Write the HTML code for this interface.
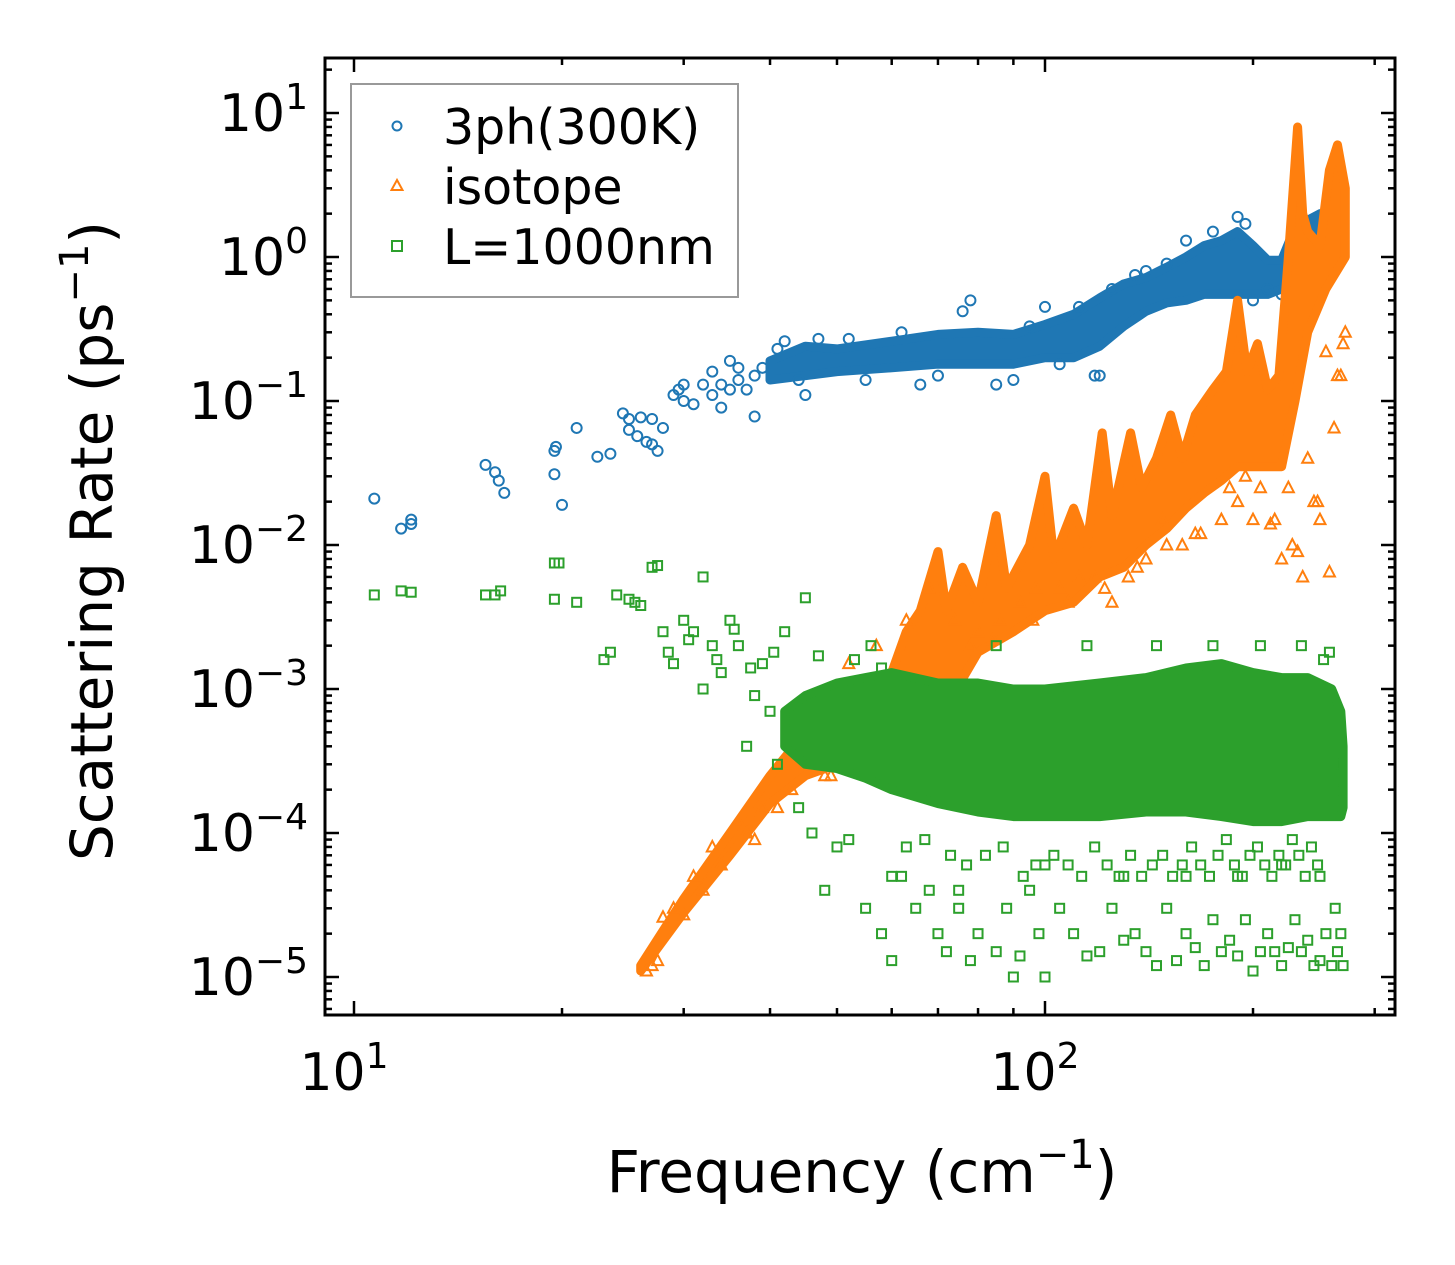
<!DOCTYPE html>
<html><head><meta charset="utf-8"><style>
body{margin:0;background:#fff;}
svg{display:block;font-family:"DejaVu Sans","Liberation Sans",sans-serif;}
</style></head><body>
<svg id="chart" width="1455" height="1265" viewBox="0 0 1455 1265" xmlns="http://www.w3.org/2000/svg">
<rect width="1455" height="1265" fill="#fff"/>
<g id="plot"></g>
<g id="axes"></g>
</svg>
<script>
// ---- data ----
const xTickValues=[10,100];
const xTickLabels=["1","2"];
const yTickValues=[10,1,0.1,0.01,0.001,0.0001,0.00001];
const yTickExps=["1","0","\u22121","\u22122","\u22123","\u22124","\u22125"];

const blueFreq=[10.7,11.7,12.1,12.1,15.5,16,16.2,16.5,19.5,19.5,19.6,20,21,22.5,23.5,24.5,25,25,25.7,26,26.5,27,27,27.5,28,29,29.5,30,30,31,32,33,33,34,34,35,35,36,36,37,38,38,39,41,45,52,66,76,78,85,100,120,135,150,190,195,230,245,42,44,47,55,62,70,90,95,105,112,118,125,140,160,175,200,210,220,235,255,265,270];
const blueRate=[0.021,0.013,0.015,0.014,0.036,0.032,0.028,0.023,0.045,0.031,0.048,0.019,0.065,0.041,0.043,0.082,0.075,0.063,0.057,0.077,0.052,0.05,0.075,0.045,0.065,0.11,0.12,0.13,0.10,0.095,0.13,0.16,0.11,0.09,0.13,0.19,0.12,0.14,0.17,0.12,0.15,0.078,0.17,0.23,0.11,0.27,0.13,0.42,0.5,0.13,0.45,0.15,0.75,0.9,1.9,1.7,1.8,1.3,0.26,0.14,0.27,0.14,0.3,0.15,0.14,0.33,0.18,0.45,0.15,0.6,0.8,1.3,1.5,0.5,0.6,0.55,1.2,2.0,1.8,1.2];
const blueBandF=[40,45,50,60,70,80,90,100,110,120,130,140,150,160,170,180,190,200,210,220,230,240,250,260,270];
const blueBandLo=[0.14,0.15,0.16,0.17,0.18,0.18,0.18,0.2,0.2,0.24,0.33,0.42,0.48,0.5,0.55,0.55,0.55,0.55,0.55,0.6,0.6,0.8,1.0,1.0,1.0];
const blueBandHi=[0.19,0.24,0.23,0.26,0.29,0.3,0.29,0.34,0.4,0.52,0.65,0.72,0.85,1.0,1.2,1.3,1.5,1.2,0.95,0.95,1.6,1.8,2.0,1.7,1.4];

const orangeHiF=[26,30,35,40,45,50,55,60,63,66,70,72,76,80,85,88,95,100,103,110,115,121,125,133,138,145,152,158,165,175,183,190,196,203,210,218,225,232,236,240,250,258,265,272];
const orangeHi=[1.2e-5,3.5e-5,1e-4,2.5e-4,5e-4,8e-4,1e-3,1.3e-3,2.5e-3,3.5e-3,9e-3,3.5e-3,7e-3,4e-3,1.6e-2,5e-3,1e-2,3e-2,8e-3,1.8e-2,1e-2,6e-2,1.6e-2,6e-2,2.5e-2,4e-2,8e-2,4e-2,8e-2,1.2e-1,1.6e-1,5e-1,1.6e-1,2.5e-1,1.2e-1,1.5e-1,1,8,2,1.5,1.2,4,6,3];
const orangeLoF=[26,30,35,40,45,50,60,70,80,90,100,110,120,130,140,150,160,170,180,190,200,210,220,230,240,255,272];
const orangeLo=[1.1e-5,2.8e-5,7e-5,1.6e-4,2.5e-4,3e-4,3.5e-4,6e-4,1.8e-3,2.5e-3,3.5e-3,4e-3,6e-3,7e-3,1e-2,1.3e-2,1.8e-2,2.3e-2,2.8e-2,3.5e-2,3.5e-2,3.5e-2,3.5e-2,1e-1,3e-1,6e-1,1];
const orangeFreq=[27,28,29,31,33,36,38,41,44,48,52,57,63,68,74,80,86,92,97,105,112,118,125,132,140,148,158,168,180,190,200,212,220,228,236,245,250,258,262,268,26.5,27.5,30,32,34,37,39,42,43,46,49,70,78,84,96,108,122,136,150,165,185,195,205,215,225,232,240,248,255,265,270,272];
const orangeRate=[1.2e-5,2.6e-5,3e-5,5e-5,8e-5,1.2e-4,9e-5,1.5e-4,5e-4,2.5e-4,1.5e-3,2e-3,3e-3,5e-3,3e-3,2.5e-3,3e-3,4e-3,5e-3,5e-3,6e-3,6e-3,4e-3,6e-3,8e-3,1.5e-2,1e-2,1.2e-2,1.5e-2,2e-2,1.5e-2,1.4e-2,8e-3,1e-2,6e-3,2e-2,1.5e-2,6.5e-3,0.065,0.15,1.1e-5,1.3e-5,2.7e-5,4e-5,6e-5,1e-4,1.5e-4,3e-4,2e-4,4e-4,2.5e-4,1.1e-3,2e-3,2.2e-3,3e-3,4e-3,5e-3,7e-3,1e-2,1.2e-2,2.5e-2,3e-2,2.5e-2,1.5e-2,2.5e-2,9e-3,4e-2,0.02,0.22,0.15,0.25,0.3];

const greenBandF=[42,45,50,55,60,70,80,90,100,120,140,160,180,200,220,240,260,268,270];
const greenBandLo=[4e-4,3e-4,2.8e-4,2.4e-4,2e-4,1.6e-4,1.4e-4,1.3e-4,1.3e-4,1.3e-4,1.4e-4,1.4e-4,1.3e-4,1.2e-4,1.2e-4,1.3e-4,1.3e-4,1.3e-4,1.5e-4];
const greenBandHi=[7e-4,9e-4,1.1e-3,1.2e-3,1.3e-3,1.1e-3,1.1e-3,1e-3,1e-3,1.1e-3,1.2e-3,1.4e-3,1.5e-3,1.3e-3,1.2e-3,1.2e-3,1e-3,7e-4,4e-4];
const greenFreq=[10.7,11.7,12.1,15.5,16,16.3,19.5,19.8,19.5,21,23,23.5,24,25,25.5,26,27,27.5,28,29,30,31,32,32,33,34,35,36,37,38,39,40,41,42,44,45,46,48,50,52,55,58,60,62,65,68,70,72,75,78,80,85,88,90,92,95,98,100,105,110,115,120,125,130,135,140,145,150,155,160,165,170,175,180,185,190,195,200,205,210,215,220,225,230,235,240,245,250,255,260,265,268,270,60,75,100,130,160,190,220,250,85,115,145,175,205,235,28.5,30.5,33.5,35.5,37.5,40.5,43,47,53,56,58,63,67,73,77,82,87,93,97,103,108,113,118,123,128,133,138,143,148,153,158,163,168,173,178,183,188,193,198,203,208,213,218,223,228,233,238,243,248,253,258,263,266,269,271];
const greenRate=[4.5e-3,4.8e-3,4.7e-3,4.5e-3,4.5e-3,4.8e-3,7.5e-3,7.5e-3,4.2e-3,4e-3,1.6e-3,1.8e-3,4.5e-3,4.2e-3,4e-3,3.8e-3,7e-3,7.2e-3,2.5e-3,1.5e-3,3e-3,2.5e-3,6e-3,1e-3,2e-3,1.3e-3,3e-3,2e-3,4e-4,9e-4,1.5e-3,7e-4,3e-4,2.5e-3,1.5e-4,4.3e-3,1e-4,4e-5,8e-5,9e-5,3e-5,2e-5,1.3e-5,5e-5,3e-5,4e-5,2e-5,1.5e-5,3e-5,1.3e-5,2e-5,1.5e-5,3e-5,1e-5,1.4e-5,4e-5,2e-5,1e-5,3e-5,2e-5,1.4e-5,1.5e-5,3e-5,1.8e-5,2e-5,1.5e-5,1.2e-5,3e-5,1.3e-5,2e-5,1.6e-5,1.2e-5,2.5e-5,1.5e-5,1.8e-5,1.4e-5,2.5e-5,1.1e-5,1.5e-5,2e-5,1.5e-5,1.2e-5,1.6e-5,2.5e-5,1.5e-5,1.8e-5,1.2e-5,1.3e-5,2e-5,1.2e-5,1.5e-5,2e-5,1.2e-5,5e-5,4e-5,6e-5,5e-5,5e-5,5e-5,6e-5,5e-5,2e-3,2e-3,2e-3,2e-3,2e-3,2e-3,1.8e-3,2.2e-3,1.6e-3,2.6e-3,1.4e-3,1.8e-3,6e-4,1.7e-3,1.6e-3,2e-3,1.4e-3,8e-5,9e-5,7e-5,6e-5,7e-5,8e-5,5e-5,6e-5,7e-5,6e-5,5e-5,8e-5,6e-5,5e-5,7e-5,5e-5,6e-5,7e-5,5e-5,6e-5,8e-5,6e-5,5e-5,7e-5,9e-5,6e-5,5e-5,7e-5,8e-5,6e-5,5e-5,7e-5,6e-5,9e-5,7e-5,5e-5,8e-5,6e-5,1.6e-3,1.8e-3,3e-5,2e-4,3e-4];

// ---- scales ----
const X0=354, DX=691, Y0=113, DY=144;
const xs=f=>X0+(Math.log10(f)-1)*DX;
const ys=v=>Y0+(1-Math.log10(v))*DY;
const L=325,R=1395,T=58,B=1015;
const NS="http://www.w3.org/2000/svg";
const plot=document.getElementById('plot');
const axes=document.getElementById('axes');
function mk(tag,attrs,parent){const e=document.createElementNS(NS,tag);for(const k in attrs)e.setAttribute(k,attrs[k]);parent.appendChild(e);return e;}

const clip=mk('clipPath',{id:'cp'},document.getElementById('chart'));
mk('rect',{x:L,y:T,width:R-L,height:B-T},clip);
plot.setAttribute('clip-path','url(#cp)');

function band(F,lo,hi,Fh,color,name){
  const pts=[];
  const fh=Fh||F;
  for(let i=0;i<fh.length;i++)pts.push(xs(fh[i]).toFixed(1)+','+ys(hi[i]).toFixed(1));
  for(let i=F.length-1;i>=0;i--)pts.push(xs(F[i]).toFixed(1)+','+ys(lo[i]).toFixed(1));
  const p=mk('polygon',{points:pts.join(' '),fill:color,stroke:color,'stroke-width':9,'stroke-linejoin':'round'},plot);
  
  
}
function marker(type,x,y,color,name,s){
  s=s||1;let e;
  if(type==='c')e=mk('circle',{cx:x,cy:y,r:5*s,fill:'none',stroke:color,'stroke-width':2},plot);
  else if(type==='t')e=mk('polygon',{points:`${x},${y-6*s} ${x-5.5*s},${y+4.5*s} ${x+5.5*s},${y+4.5*s}`,fill:'none',stroke:color,'stroke-width':2},plot);
  else e=mk('rect',{x:x-4.5*s,y:y-4.5*s,width:9*s,height:9*s,fill:'none',stroke:color,'stroke-width':2},plot);
  
  
  return e;
}
const BLUE='#1f77b4',ORANGE='#ff7f0e',GREEN='#2ca02c';
band(blueBandF,blueBandLo,blueBandHi,null,BLUE,'3ph-dense-band');
blueFreq.forEach((f,i)=>marker('c',xs(f),ys(blueRate[i]),BLUE,'3ph-point'));
band(orangeLoF,orangeLo,orangeHi,orangeHiF,ORANGE,'isotope-dense-band');
orangeFreq.forEach((f,i)=>marker('t',xs(f),ys(orangeRate[i]),ORANGE,'isotope-point'));
band(greenBandF,greenBandLo,greenBandHi,null,GREEN,'boundary-dense-band');
greenFreq.forEach((f,i)=>marker('s',xs(f),ys(greenRate[i]),GREEN,'boundary-point'));

// ---- axes ----
const frame=mk('rect',{x:L,y:T,width:R-L,height:B-T,fill:'none',stroke:'#000','stroke-width':3},axes);


function tick(x1,y1,x2,y2){mk('line',{x1,y1,x2,y2,stroke:'#000','stroke-width':2.5},axes);}
for(let d=0;d<3;d++)for(let m=1;m<10;m++){
  const f=m*Math.pow(10,d+1);const x=xs(f);if(x<L+2||x>R-2)continue;
  const len=m===1?14:7;tick(x,B,x,B-len);tick(x,T,x,T+len);
}
xTickValues.forEach((v,i)=>{
  const t=mk('text',{x:xs(v)-10,y:1090,'font-size':52,'text-anchor':'middle'},axes);
  
  
  t.textContent='10';
  const s=mk('tspan',{dy:-22,'font-size':36},t);s.textContent=xTickLabels[i];
});
for(let d=-6;d<2;d++)for(let m=1;m<10;m++){
  const v=m*Math.pow(10,d);const y=ys(v);if(y<T+2||y>B-2)continue;
  const len=m===1?14:7;tick(L,y,L+len,y);tick(R,y,R-len,y);
}
yTickValues.forEach((v,i)=>{
  const g=mk('text',{x:308,y:ys(v)+18,'font-size':52,'text-anchor':'end'},axes);
  
  
  const a=mk('tspan',{},g);a.textContent='10';
  const b=mk('tspan',{dy:-22,'font-size':36},g);b.textContent=yTickExps[i];
});
const xt=mk('text',{x:862,y:1192,'font-size':58,'text-anchor':'middle'},axes);


xt.innerHTML='Frequency (cm<tspan dy="-24" font-size="40">\u22121</tspan><tspan dy="24">)</tspan>';
const yt=mk('text',{x:0,y:0,'font-size':58,'text-anchor':'middle',transform:'translate(112,541) rotate(-90)'},axes);


yt.innerHTML='Scattering Rate (ps<tspan dy="-24" font-size="40">\u22121</tspan><tspan dy="24">)</tspan>';
const lg=mk('g',{},axes);


mk('rect',{x:351,y:84,width:387,height:213,fill:'#fff',stroke:'#999','stroke-width':2},lg);
const entries=[['c',BLUE,'3ph(300K)'],['t',ORANGE,'isotope'],['s',GREEN,'L=1000nm']];
entries.forEach((e,i)=>{
  const cy=126+i*60;
  let m;
  if(e[0]==='c')m=mk('circle',{cx:397,cy:cy,r:4.5,fill:'none',stroke:e[1],'stroke-width':2},lg);
  else if(e[0]==='t')m=mk('polygon',{points:`397,${cy-6} 391.5,${cy+4} 402.5,${cy+4}`,fill:'none',stroke:e[1],'stroke-width':2},lg);
  else m=mk('rect',{x:392,y:cy-5,width:10,height:10,fill:'none',stroke:e[1],'stroke-width':2},lg);
  
  
  const t=mk('text',{x:443,y:cy+18,'font-size':49},lg);
  
  
  t.textContent=e[2];
});
</script>
</body></html>
